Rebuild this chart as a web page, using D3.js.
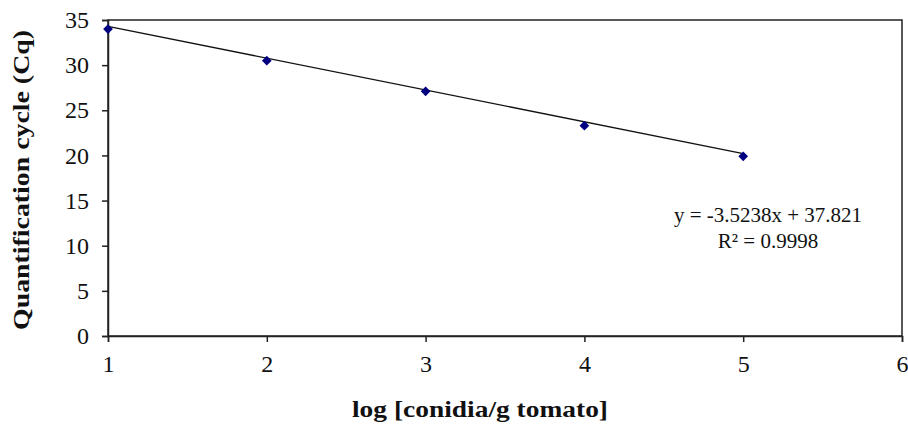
<!DOCTYPE html>
<html>
<head>
<meta charset="utf-8">
<script src="https://cdn.jsdelivr.net/npm/d3@7"></script>
<style>
  html, body { margin: 0; padding: 0; background: #fff; }
</style>
</head>
<body>
<svg id="chart" width="908" height="424"></svg>
<script>
// данные
var logConidia = [1, 2, 3, 4, 5];
var cqValues = [34.0, 30.5, 27.1, 23.3, 19.9];
var xTicks = [1, 2, 3, 4, 5, 6];
var yTicks = [0, 5, 10, 15, 20, 25, 30, 35];
var trendSlope = [-3.5238];
var trendIntercept = [37.821];
var equationLines = ["y = -3.5238x + 37.821", "R\u00b2 = 0.9998"];

var sFont = "Liberation Serif";
var sInk = "#111";

var margin = { top: 20, right: 6, bottom: 88, left: 108 };
var width = 908 - margin.left - margin.right;
var height = 424 - margin.top - margin.bottom;

var svg = d3.select("#chart")
    .attr("font-family", sFont);
var chart = svg.append("g")
    .attr("transform", `translate(${margin.left}, ${margin.top})`);

var x = d3.scaleLinear().domain([1, 6]).range([0, width]);
var y = d3.scaleLinear().domain([0, 35]).range([height, 0]);

// рамка
chart.append("rect")
    .attr("x", 0).attr("y", 0)
    .attr("width", width).attr("height", height)
    .attr("fill", "none")
    .attr("stroke", "#222")
    .attr("stroke-width", 1.5);

// ось x
var gx = chart.append("g")
    .attr("transform", `translate(0, ${height})`)
    .call(d3.axisBottom(x).tickValues(xTicks).tickSize(6).tickPadding(13).tickFormat(d3.format("d")))
    .attr("font-family", sFont)
    .attr("font-size", 24);
gx.select(".domain").attr("stroke", "#222").attr("stroke-width", 1.5);
gx.selectAll(".tick line").attr("stroke", "#222").attr("stroke-width", 1.5);
gx.selectAll(".tick text").attr("fill", sInk);

// ось y
var gy = chart.append("g")
    .call(d3.axisLeft(y).tickValues(yTicks).tickSize(6).tickPadding(13))
    .attr("font-family", sFont)
    .attr("font-size", 24);
gy.select(".domain").attr("stroke", "#222").attr("stroke-width", 1.5);
gy.selectAll(".tick line").attr("stroke", "#222").attr("stroke-width", 1.5);
gy.selectAll(".tick text").attr("fill", sInk);

// линия тренда
var trend = d3.line()
    .x(d => x(d))
    .y(d => y(trendSlope[0] * d + trendIntercept[0]));

chart.append("path")
    .datum([logConidia[0], logConidia[logConidia.length - 1]])
    .attr("fill", "none")
    .attr("stroke", sInk)
    .attr("stroke-width", 1.4)
    .attr("d", trend);

// точки
chart.selectAll(".pt")
    .data(logConidia)
    .enter().append("path")
    .attr("class", "pt")
    .attr("d", d3.symbol().type(d3.symbolDiamond2).size(60))
    .attr("transform", (d, i) => `translate(${x(d)}, ${y(cqValues[i])})`)
    .attr("fill", "#000080");

// уравнение
chart.selectAll(".eq")
    .data(equationLines)
    .enter().append("text")
    .attr("class", "eq")
    .attr("x", 660)
    .attr("y", (d, i) => 202 + i * 26)
    .attr("text-anchor", "middle")
    .attr("font-family", sFont)
    .attr("font-size", 21)
    .attr("fill", sInk)
    .text(d => d);

// подписи осей
svg.append("text")
    .attr("x", 480)
    .attr("y", 417)
    .attr("text-anchor", "middle")
    .attr("font-family", sFont)
    .attr("font-size", 23)
    .attr("font-weight", "bold")
    .attr("fill", sInk)
    .attr("textLength", 256)
    .attr("lengthAdjust", "spacingAndGlyphs")
    .text("log [conidia/g tomato]");

svg.append("text")
    .attr("transform", "translate(29, 180) rotate(-90)")
    .attr("text-anchor", "middle")
    .attr("font-family", sFont)
    .attr("font-size", 23)
    .attr("font-weight", "bold")
    .attr("fill", sInk)
    .attr("textLength", 300)
    .attr("lengthAdjust", "spacingAndGlyphs")
    .text("Quantification cycle (Cq)");
</script>
</body>
</html>
